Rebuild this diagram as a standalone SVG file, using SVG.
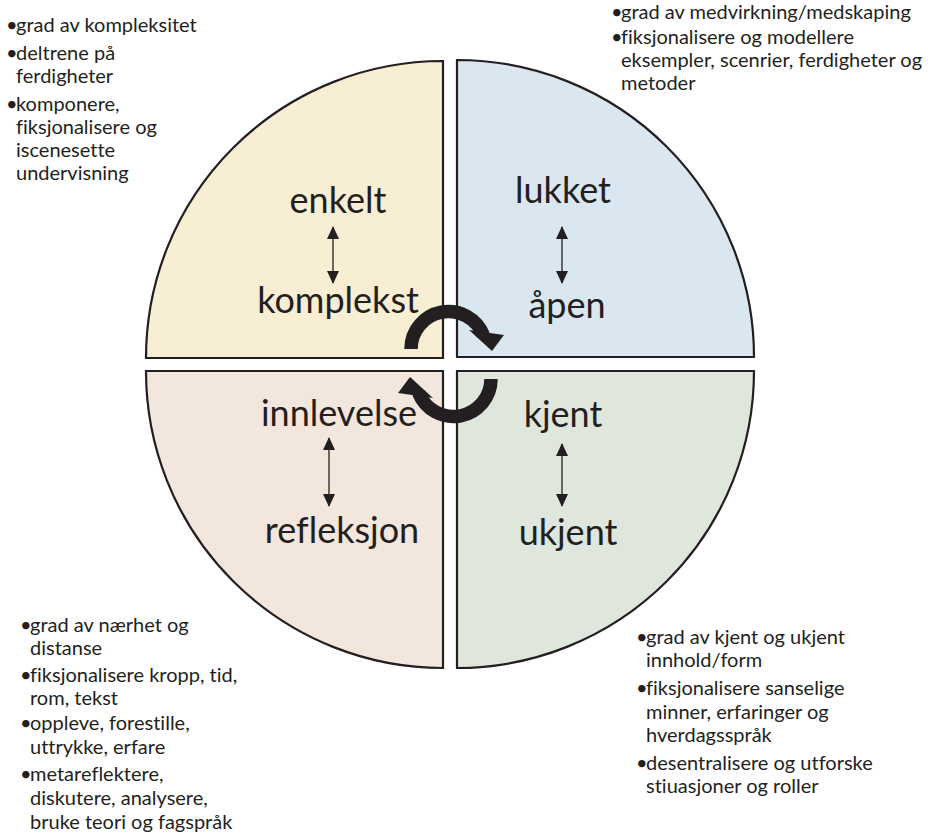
<svg xmlns="http://www.w3.org/2000/svg" width="928" height="836" viewBox="0 0 928 836">
<defs>
<style>
.q{stroke:#231f20;stroke-width:2.2}
.big{font-family:Lato,"Noto Sans",sans-serif;font-size:36px;fill:#231f20;text-anchor:middle;font-variant-ligatures:none}
.sm{font-family:Lato,"Noto Sans",sans-serif;font-size:20px;fill:#231f20;font-variant-ligatures:none}
.dbl{stroke:#231f20;stroke-width:1.3;fill:none;marker-start:url(#ah);marker-end:url(#ah)}
.circ{stroke:#231f20;stroke-width:13.5;fill:none}
</style>
<marker id="ah" viewBox="0 0 13 12" refX="12" refY="6" markerWidth="13" markerHeight="12" markerUnits="userSpaceOnUse" orient="auto-start-reverse">
<path d="M0,0 L13,6 L0,12 Z" fill="#231f20"/>
</marker>
</defs>
<rect width="928" height="836" fill="#ffffff"/>
<g id="quadrant-enkelt-komplekst">
<path class="q" fill="#f8eed4" d="M443,358 L146,358 A297,297 0 0 1 443,61 Z"/>
<text class="big" x="338" y="213">enkelt</text>
<text class="big" x="338" y="313">komplekst</text>
</g>
<g id="quadrant-lukket-apen">
<path class="q" fill="#dbe7f0" d="M457,357 L457,60 A297,297 0 0 1 754,357 Z"/>
<text class="big" x="563" y="203">lukket</text>
<text class="big" x="567" y="318">åpen</text>
</g>
<g id="quadrant-innlevelse-refleksjon">
<path class="q" fill="#f3e6dc" d="M443,371 L443,668 A297,297 0 0 1 146,371 Z"/>
<text class="big" x="339" y="426">innlevelse</text>
<text class="big" x="342" y="543">refleksjon</text>
</g>
<g id="quadrant-kjent-ukjent">
<path class="q" fill="#dfe7dd" d="M457,371 L754,371 A297,297 0 0 1 457,668 Z"/>
<text class="big" x="563" y="427">kjent</text>
<text class="big" x="568" y="545">ukjent</text>
</g>
<g id="notes-top-left">
<text class="sm"><tspan x="6" y="32">•</tspan><tspan x="16" y="32">grad av kompleksitet</tspan><tspan x="6" y="60">•</tspan><tspan x="16" y="60">deltrene på</tspan><tspan x="16" y="83">ferdigheter</tspan><tspan x="6" y="111">•</tspan><tspan x="16" y="111">komponere,</tspan><tspan x="16" y="134">fiksjonalisere og</tspan><tspan x="16" y="157">iscenesette</tspan><tspan x="16" y="180">undervisning</tspan></text>
</g>
<g id="notes-top-right">
<text class="sm"><tspan x="611" y="19">•</tspan><tspan x="621" y="19">grad av medvirkning/medskaping</tspan><tspan x="611" y="44">•</tspan><tspan x="621" y="44">fiksjonalisere og modellere</tspan><tspan x="621" y="67">eksempler, scenrier, ferdigheter og</tspan><tspan x="621" y="90">metoder</tspan></text>
</g>
<g id="notes-bottom-left">
<text class="sm"><tspan x="20" y="632">•</tspan><tspan x="30" y="632">grad av nærhet og</tspan><tspan x="30" y="655">distanse</tspan><tspan x="20" y="682">•</tspan><tspan x="30" y="682">fiksjonalisere kropp, tid,</tspan><tspan x="30" y="705">rom, tekst</tspan><tspan x="20" y="730">•</tspan><tspan x="30" y="730">oppleve, forestille,</tspan><tspan x="30" y="754">uttrykke, erfare</tspan><tspan x="20" y="781">•</tspan><tspan x="30" y="781">metareflektere,</tspan><tspan x="30" y="805">diskutere, analysere,</tspan><tspan x="30" y="829">bruke teori og fagspråk</tspan></text>
</g>
<g id="notes-bottom-right">
<text class="sm"><tspan x="636" y="644">•</tspan><tspan x="646" y="644">grad av kjent og ukjent</tspan><tspan x="646" y="667">innhold/form</tspan><tspan x="636" y="695">•</tspan><tspan x="646" y="695">fiksjonalisere sanselige</tspan><tspan x="646" y="719">minner, erfaringer og</tspan><tspan x="646" y="742">hverdagsspråk</tspan><tspan x="636" y="770">•</tspan><tspan x="646" y="770">desentralisere og utforske</tspan><tspan x="646" y="793">stiuasjoner og roller</tspan></text>
</g>
<g id="connectors">
<line class="dbl" x1="333" y1="227" x2="333" y2="283"/>
<line class="dbl" x1="562" y1="227" x2="562" y2="283"/>
<line class="dbl" x1="329" y1="438" x2="329" y2="506"/>
<line class="dbl" x1="562" y1="444" x2="562" y2="506"/>
<path class="circ" d="M411,349 A37.5,37.5 0 0 1 483.3,335.1"/>
<polygon fill="#231f20" points="469,330 504,335 492,351"/>
<path class="circ" d="M491,379 A37.5,37.5 0 0 1 418.7,392.9"/>
<polygon fill="#231f20" points="433,398 398,393 410,377"/>
</g>
</svg>
